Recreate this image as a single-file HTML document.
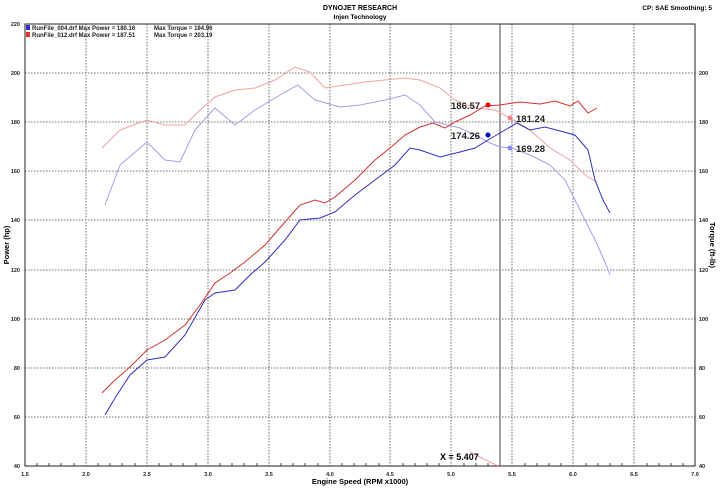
<!DOCTYPE html>
<html><head><style>body{margin:0;background:#fff}svg{display:block;font-family:"Liberation Sans",sans-serif}</style></head><body>
<svg width="720" height="488" viewBox="0 0 720 488">
<rect width="720" height="488" fill="#fff"/>
<text x="360" y="10" font-size="7" font-weight="bold" text-anchor="middle">DYNOJET RESEARCH</text>
<text x="360" y="19" font-size="6.5" font-weight="bold" text-anchor="middle">Injen Technology</text>
<text x="712" y="10" font-size="6.5" font-weight="bold" text-anchor="end">CP: SAE  Smoothing: 5</text>
<g stroke="#444" stroke-width="0.8" stroke-dasharray="1.5,1.5">
<line x1="25" y1="73" x2="695" y2="73"/><line x1="25" y1="122" x2="695" y2="122"/><line x1="25" y1="171" x2="695" y2="171"/><line x1="25" y1="220" x2="695" y2="220"/><line x1="25" y1="270" x2="695" y2="270"/><line x1="25" y1="319" x2="695" y2="319"/><line x1="25" y1="368" x2="695" y2="368"/><line x1="25" y1="417" x2="695" y2="417"/>
<line x1="86" y1="24" x2="86" y2="466"/><line x1="147" y1="24" x2="147" y2="466"/><line x1="208" y1="24" x2="208" y2="466"/><line x1="269" y1="24" x2="269" y2="466"/><line x1="330" y1="24" x2="330" y2="466"/><line x1="390" y1="24" x2="390" y2="466"/><line x1="451" y1="24" x2="451" y2="466"/><line x1="512" y1="24" x2="512" y2="466"/><line x1="573" y1="24" x2="573" y2="466"/><line x1="634" y1="24" x2="634" y2="466"/>
</g>
<rect x="25" y="24" width="670" height="442" fill="none" stroke="#222" stroke-width="1"/>
<g stroke="#222" stroke-width="0.8">
<path d="M37,466v-3M49,466v-3M61,466v-3M74,466v-3M98,466v-3M110,466v-3M122,466v-3M135,466v-3M159,466v-3M171,466v-3M183,466v-3M196,466v-3M220,466v-3M232,466v-3M244,466v-3M257,466v-3M281,466v-3M293,466v-3M305,466v-3M318,466v-3M342,466v-3M354,466v-3M366,466v-3M379,466v-3M403,466v-3M415,466v-3M427,466v-3M439,466v-3M464,466v-3M476,466v-3M488,466v-3M500,466v-3M525,466v-3M537,466v-3M549,466v-3M561,466v-3M586,466v-3M598,466v-3M610,466v-3M622,466v-3M647,466v-3M659,466v-3M671,466v-3M683,466v-3"/>
</g>
<line x1="500" y1="24" x2="500" y2="466" stroke="#444" stroke-width="1"/>
<line x1="470" y1="452" x2="498" y2="466" stroke="#e88" stroke-width="0.7"/>
<text x="440" y="460" font-size="9" font-weight="bold">X = 5.407</text>
<g font-size="5.5" font-weight="bold" fill="#222">
<text x="20" y="26" text-anchor="end">220</text><text x="20" y="75" text-anchor="end">200</text><text x="20" y="124" text-anchor="end">180</text><text x="20" y="173" text-anchor="end">160</text><text x="20" y="222" text-anchor="end">140</text><text x="20" y="272" text-anchor="end">120</text><text x="20" y="321" text-anchor="end">100</text><text x="20" y="370" text-anchor="end">80</text><text x="20" y="419" text-anchor="end">60</text><text x="20" y="468" text-anchor="end">40</text>
<text x="699" y="75">200</text><text x="699" y="124">180</text><text x="699" y="173">160</text><text x="699" y="222">140</text><text x="699" y="272">120</text><text x="699" y="321">100</text><text x="699" y="370">80</text><text x="699" y="419">60</text><text x="699" y="468">40</text>
<text x="25" y="476" text-anchor="middle">1.5</text><text x="86" y="476" text-anchor="middle">2.0</text><text x="147" y="476" text-anchor="middle">2.5</text><text x="208" y="476" text-anchor="middle">3.0</text><text x="269" y="476" text-anchor="middle">3.5</text><text x="330" y="476" text-anchor="middle">4.0</text><text x="390" y="476" text-anchor="middle">4.5</text><text x="451" y="476" text-anchor="middle">5.0</text><text x="512" y="476" text-anchor="middle">5.5</text><text x="573" y="476" text-anchor="middle">6.0</text><text x="634" y="476" text-anchor="middle">6.5</text><text x="695" y="476" text-anchor="middle">7.0</text>
</g>
<text x="360" y="484" font-size="7.5" font-weight="bold" text-anchor="middle">Engine Speed (RPM x1000)</text>
<text transform="translate(9,245) rotate(-90)" font-size="7.5" font-weight="bold" text-anchor="middle">Power (hp)</text>
<text transform="translate(710,245) rotate(90)" font-size="7.5" font-weight="bold" text-anchor="middle">Torque (ft-lb)</text>
<rect x="26" y="25" width="4" height="5" fill="#33c"/><rect x="26" y="32" width="4" height="5" fill="#d33"/>
<g font-size="6" font-weight="bold" fill="#222"><text x="32" y="30">RunFile_004.drf Max Power = 180.16</text><text x="154" y="30">Max Torque = 194.96</text><text x="32" y="37">RunFile_012.drf Max Power = 187.51</text><text x="154" y="37">Max Torque = 203.19</text></g>
<g fill="none" stroke-width="1">
<polyline stroke="#f0a0a0" points="102,148 120,130 147,120 165,125 185,125 200,110 215,97 235,90 255,88 275,80 295,67 310,72 325,88 345,85 365,82 385,80 405,78 420,80 440,88 455,100 475,108 495,110 510,118 530,130 550,148 570,160 585,175 597,182"/>
<polyline stroke="#a0a0e8" points="105,205 120,165 147,142 165,160 180,162 195,130 215,108 235,125 255,110 280,95 298,85 315,100 340,107 360,105 385,100 405,95 420,105 435,122 460,128 475,135 488,142 500,147 512,148 530,155 550,165 565,180 580,210 595,240 605,262 610,275"/>
<polyline stroke="#d03030" points="102,393 115,380 130,367 147,350 165,340 185,325 200,305 215,283 230,273 245,262 265,245 285,222 300,205 315,200 325,203 335,197 355,180 375,160 390,148 405,135 420,127 433,123 445,128 455,122 470,115 485,106 500,105 520,102 540,104 555,101 570,106 578,101 588,113 597,108"/>
<polyline stroke="#3030c0" points="105,415 115,398 130,375 147,360 165,357 185,335 205,300 215,293 235,290 250,275 265,262 285,240 300,220 320,218 335,212 355,195 375,180 395,165 410,148 420,150 440,157 460,152 475,148 488,140 505,130 517,123 530,130 545,127 560,131 575,135 588,150 595,180 603,200 610,213"/>
</g>
<circle cx="488" cy="105" r="2.5" fill="#e00"/><circle cx="510" cy="118" r="2.5" fill="#f08080"/><circle cx="488" cy="135" r="2.5" fill="#00c"/><circle cx="510" cy="148" r="2.5" fill="#8888ee"/>
<g font-size="9.5" font-weight="bold" fill="#222">
<text x="451" y="109">186.57</text><text x="516" y="122">181.24</text><text x="451" y="139">174.26</text><text x="516" y="152">169.28</text></g>
</svg>
</body></html>
